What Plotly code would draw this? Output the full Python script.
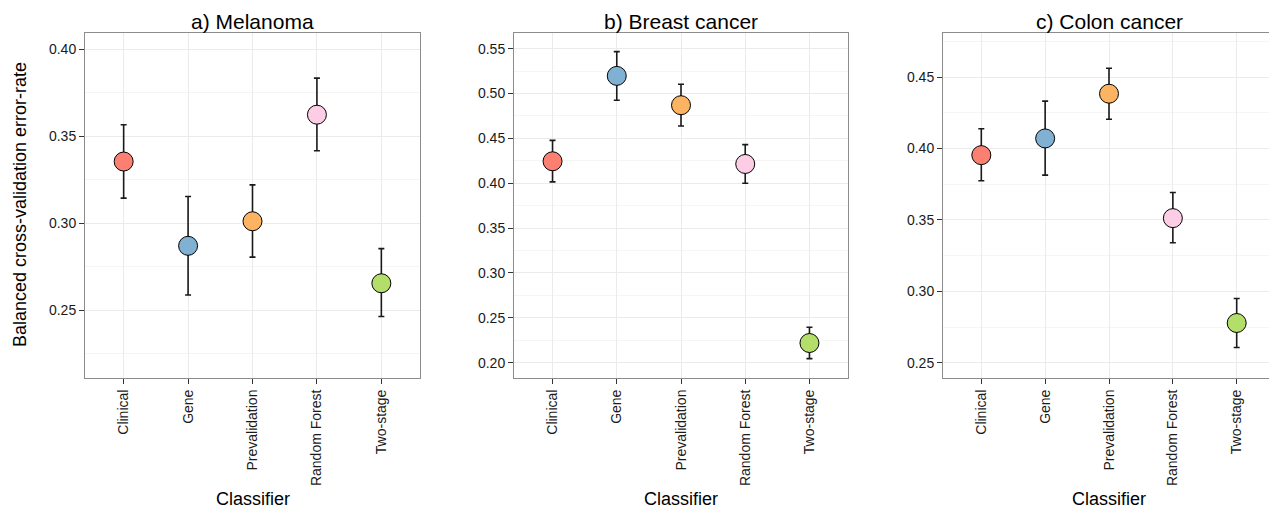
import plotly.graph_objects as go

categories = ["Clinical", "Gene", "Prevalidation", "Random Forest", "Two-stage"]
colors = ["#FB8072", "#80B1D3", "#FDB462", "#FCCDE5", "#B3DE69"]

titles = ["a) Melanoma", "b) Breast cancer", "c) Colon cancer"]

melanoma_mean = [0.3354, 0.2870, 0.3011, 0.3623, 0.2655]
melanoma_hi = [0.3565, 0.3153, 0.3220, 0.3833, 0.2854]
melanoma_lo = [0.3144, 0.2588, 0.2805, 0.3416, 0.2464]

breast_mean = [0.4245, 0.5197, 0.4870, 0.4215, 0.2219]
breast_hi = [0.4478, 0.5467, 0.5104, 0.4431, 0.2394]
breast_lo = [0.4015, 0.4926, 0.4639, 0.4000, 0.2045]

colon_mean = [0.3953, 0.4070, 0.4383, 0.3512, 0.2778]
colon_hi = [0.4138, 0.4331, 0.4561, 0.3692, 0.2949]
colon_lo = [0.3774, 0.3813, 0.4204, 0.3340, 0.2607]

y_ranges = [[0.2111, 0.4092], [0.1829, 0.5675], [0.2393, 0.4808]]
y_ticks = [[0.25, 0.30, 0.35, 0.40],
           [0.20, 0.25, 0.30, 0.35, 0.40, 0.45, 0.50, 0.55],
           [0.25, 0.30, 0.35, 0.40, 0.45]]

W, H = 1277, 507
OFF = 8  # page body margin offset
x_px = [(85 - OFF, 420 - OFF), (514 - OFF, 848 - OFF), (943 - OFF, 1275 - OFF)]
y_px = (33 - OFF, 378 - OFF)

FONT = "Liberation Sans, Arial, sans-serif"
fig = go.Figure()

datasets = [(melanoma_mean, melanoma_hi, melanoma_lo),
            (breast_mean, breast_hi, breast_lo),
            (colon_mean, colon_hi, colon_lo)]

for i, (m, hi, lo) in enumerate(datasets):
    xa = "x" if i == 0 else f"x{i+1}"
    ya = "y" if i == 0 else f"y{i+1}"
    fig.add_trace(go.Scatter(
        x=categories, y=m, mode="markers", xaxis=xa, yaxis=ya,
        marker=dict(size=19, color=colors, line=dict(color="black", width=1)),
        error_y=dict(type="data", symmetric=False,
                     array=[h - v for h, v in zip(hi, m)],
                     arrayminus=[v - l for v, l in zip(m, lo)],
                     color="#1a1a1a", thickness=1.6, width=3),
        showlegend=False, hoverinfo="skip"))

layout = dict(width=W, height=H, margin=dict(l=0, r=0, t=0, b=0, autoexpand=False),
              plot_bgcolor="white", paper_bgcolor="white",
              font=dict(family=FONT, color="black"))

for i in range(3):
    sx = "" if i == 0 else str(i + 1)
    x0, x1 = x_px[i]
    layout[f"xaxis{sx}"] = dict(
        domain=[x0 / W, x1 / W], anchor=f"y{sx}", type="category",
        categoryorder="array", categoryarray=categories,
        range=[-0.6, 4.6], tickangle=-90, automargin=False,
        showgrid=True, gridcolor="#ebebeb", gridwidth=1,
        ticks="outside", ticklen=5, tickcolor="#333333", tickwidth=1,
        tickfont=dict(size=14, color="#1a1a1a"),
        showline=True, linecolor="#8c8c8c", linewidth=1, mirror=True,
        zeroline=False)
    layout[f"yaxis{sx}"] = dict(
        domain=[1 - y_px[1] / H, 1 - y_px[0] / H], anchor=f"x{sx}",
        range=y_ranges[i], tickvals=y_ticks[i], tickformat=".2f", automargin=False,
        showgrid=True, gridcolor="#ebebeb", gridwidth=1,
        minor=dict(dtick=0.025, tick0=0.025, showgrid=True, gridcolor="#f5f5f5", gridwidth=1),
        ticks="outside", ticklen=5, tickcolor="#333333", tickwidth=1,
        tickfont=dict(size=14, color="#1a1a1a"),
        showline=True, linecolor="#8c8c8c", linewidth=1, mirror=True,
        zeroline=False)

annotations = []
for i, t in enumerate(titles):
    x0, x1 = x_px[i]
    cx = (x0 + x1) / 2 / W
    annotations.append(dict(text=t, x=cx, y=1 - (21 - OFF) / H,
                            xref="paper", yref="paper", showarrow=False,
                            xanchor="center", yanchor="middle",
                            font=dict(size=21, color="black")))
    annotations.append(dict(text="Classifier", x=cx, y=1 - (499 - OFF) / H,
                            xref="paper", yref="paper", showarrow=False,
                            xanchor="center", yanchor="middle",
                            font=dict(size=18, color="black")))
annotations.append(dict(text="Balanced cross-validation error-rate",
                        x=(20 - OFF) / W, y=1 - (205 - OFF) / H, xref="paper", yref="paper",
                        showarrow=False, textangle=-90,
                        xanchor="center", yanchor="middle",
                        font=dict(size=18, color="black")))
layout["annotations"] = annotations

fig.update_layout(**layout)
fig.write_html("out.html")
